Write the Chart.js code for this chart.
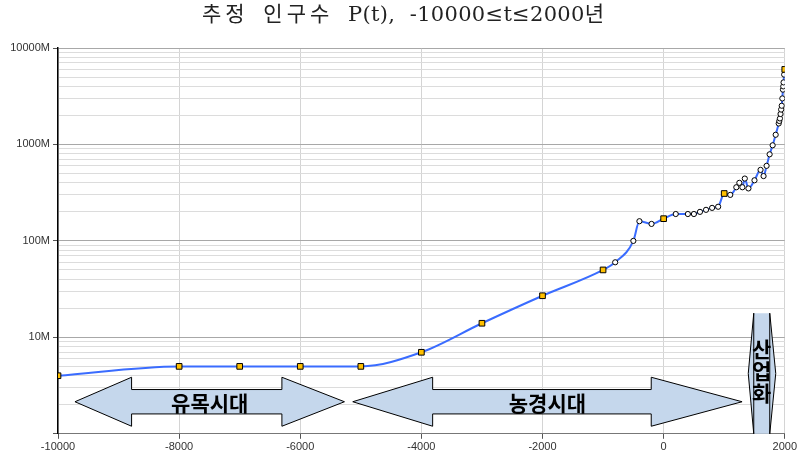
<!DOCTYPE html>
<html>
<head>
<meta charset="utf-8">
<script src="https://cdn.jsdelivr.net/npm/chart.js@4.4.1/dist/chart.umd.min.js"></script>
<style>
  html, body { margin: 0; padding: 0; background: #fff; }
  #wrap { width: 799px; height: 463px; }
</style>
</head>
<body>
<div id="wrap"><canvas id="popChart" width="799" height="463"></canvas></div>
<script>
// population in millions
const squareYears = [-10000, -8000, -7000, -6000, -5000, -4000, -3000, -2000, -1000, 0, 1000, 2000];
const squarePop = [4, 5, 5, 5, 5, 7, 14, 27, 50, 170, 310, 6000];

const circleYears = [-800, -500, -400, -200, 200, 400, 500, 600, 700, 800, 900, 1100, 1200, 1250, 1300, 1340, 1400,
    1500, 1600, 1650, 1700, 1750, 1800, 1850, 1900, 1910, 1920, 1930, 1940, 1950, 1960, 1970, 1975, 1980, 1990];
const circlePop = [60, 100, 160, 150, 190, 190, 190, 200, 210, 220, 226, 300, 360, 400, 360, 443, 350,
    425, 545, 470, 600, 790, 980, 1260, 1650, 1750, 1860, 2070, 2300, 2520, 3000, 3700, 4000, 4400, 5300];

const xTicks = [-10000, -8000, -6000, -4000, -2000, 0, 2000];
const yMajorTicks = [1, 10, 100, 1000, 10000];
const yTickLabels = ['', '10M', '100M', '1000M', '10000M'];

const titleText = '추정 인구수 P(t), -10000≤t≤2000년';

// era arrows (x in years)
const eras = [
    { label: '유목시대', from: -9720, headFrom: -8785, headTo: -6303, to: -5270 },
    { label: '농경시대', from: -5133, headFrom: -3814, headTo: -205, to: 1295 }
];
const industry = { label: '산업화', x: 1620, top: 17.8, bottom: 1 };

const linePoints = squareYears.map((x, i) => ({ x: x, y: squarePop[i] }))
    .concat(circleYears.map((x, i) => ({ x: x, y: circlePop[i] })))
    .sort((a, b) => a.x - b.x);

const yTicks = [];
yMajorTicks.forEach((m, i) => {
    if (i === yMajorTicks.length - 1) { yTicks.push({ value: m, major: true }); return; }
    for (let k = 1; k < 10; k++) yTicks.push({ value: m * k, major: k === 1 });
});

const isMajor = v => yMajorTicks.indexOf(v) >= 0;

// title drawn char by char: hangul in the original is set much wider than the latin part
const titlePlugin = {
    id: 'wideTitle',
    afterDraw(chart) {
        const { ctx } = chart;
        const gap = ch => /[\uac00-\ud7a3]/.test(ch) ? 4 : (ch === ' ' ? 8 : 0.3);
        ctx.save();
        ctx.font = '21px "DejaVu Serif", "Noto Sans CJK KR"';
        ctx.fillStyle = '#222';
        ctx.textAlign = 'left';
        ctx.textBaseline = 'middle';
        const chars = Array.from(titleText);
        const widths = chars.map(ch => ctx.measureText(ch).width + gap(ch));
        let x = 405 - widths.reduce((a, b) => a + b, 0) / 2;
        chars.forEach((ch, i) => {
            ctx.fillText(ch, x, 16);
            x += widths[i];
        });
        ctx.restore();
    }
};

const eraPlugin = {
    id: 'eras',
    afterDraw(chart) {
        const { ctx, scales: { x, y } } = chart;
        const cy = y.getPixelForValue(2.15);
        ctx.save();
        ctx.fillStyle = '#c5d7ec';
        ctx.strokeStyle = '#000';
        ctx.lineWidth = 1;
        eras.forEach(e => {
            const x0 = x.getPixelForValue(e.from), x1 = x.getPixelForValue(e.headFrom);
            const x2 = x.getPixelForValue(e.headTo), x3 = x.getPixelForValue(e.to);
            ctx.beginPath();
            ctx.moveTo(x0, cy);
            ctx.lineTo(x1, cy - 24.5);
            ctx.lineTo(x1, cy - 12.2);
            ctx.lineTo(x2, cy - 12.2);
            ctx.lineTo(x2, cy - 24.5);
            ctx.lineTo(x3, cy);
            ctx.lineTo(x2, cy + 24.5);
            ctx.lineTo(x2, cy + 12.2);
            ctx.lineTo(x1, cy + 12.2);
            ctx.lineTo(x1, cy + 24.5);
            ctx.closePath();
            ctx.fill();
            ctx.stroke();
            ctx.fillStyle = '#000';
            ctx.font = 'bold 21px "Noto Sans CJK KR"';
            ctx.textAlign = 'center';
            ctx.textBaseline = 'middle';
            ctx.fillText(e.label, (x0 + x3) / 2, cy + 1);
            ctx.fillStyle = '#c5d7ec';
        });

        // narrow vertical arrow for industrialisation
        const ix = x.getPixelForValue(industry.x);
        const it = y.getPixelForValue(industry.top), ib = y.getPixelForValue(industry.bottom);
        const im = (it + ib) / 2;
        ctx.beginPath();
        ctx.moveTo(ix - 8, it);
        ctx.lineTo(ix + 8, it);
        ctx.lineTo(ix + 14, im);
        ctx.lineTo(ix + 8, ib);
        ctx.lineTo(ix - 8, ib);
        ctx.lineTo(ix - 13.5, im);
        ctx.closePath();
        ctx.fill();
        ctx.beginPath();
        ctx.moveTo(ix - 8, it); ctx.lineTo(ix - 13.5, im); ctx.lineTo(ix - 8, ib);
        ctx.moveTo(ix + 8, it); ctx.lineTo(ix + 14, im); ctx.lineTo(ix + 8, ib);
        ctx.moveTo(ix - 8, it); ctx.lineTo(ix - 8, ib);
        ctx.moveTo(ix + 8, it); ctx.lineTo(ix + 8, ib);
        ctx.stroke();
        ctx.fillStyle = '#000';
        ctx.font = 'bold 21px "Noto Sans CJK KR"';
        ctx.textAlign = 'center';
        ctx.textBaseline = 'middle';
        Array.from(industry.label).forEach((ch, i) => {
            ctx.fillText(ch, ix, it + 36 + i * 22);
        });
        ctx.restore();
    }
};

new Chart(document.getElementById('popChart').getContext('2d'), {
    type: 'scatter',
    data: {
        datasets: [{
            label: 'squares',
            data: squareYears.map((x, i) => ({ x: x, y: squarePop[i] })),
            pointStyle: 'rect',
            pointRadius: 4,
            pointBackgroundColor: '#ffc000',
            pointBorderColor: '#000',
            pointBorderWidth: 1,
            showLine: false,
            order: 0
        }, {
            label: 'circles',
            data: circleYears.map((x, i) => ({ x: x, y: circlePop[i] })),
            pointStyle: 'circle',
            pointRadius: 2.6,
            pointBackgroundColor: '#fff',
            pointBorderColor: '#000',
            pointBorderWidth: 1,
            showLine: false,
            order: 1
        }, {
            label: 'line',
            data: linePoints,
            showLine: true,
            pointRadius: 0,
            borderColor: '#3a6cff',
            borderWidth: 2,
            cubicInterpolationMode: 'monotone',
            order: 2
        }]
    },
    options: {
        responsive: false,
        animation: false,
        devicePixelRatio: 1,
        layout: { padding: { top: 48, right: 0, left: 4, bottom: 7 } },
        plugins: {
            legend: { display: false },
            tooltip: { enabled: false },
            title: { display: false }
        },
        scales: {
            x: {
                type: 'linear',
                min: -10000,
                max: 2000,
                afterBuildTicks: s => { s.ticks = xTicks.map(v => ({ value: v })); },
                ticks: {
                    color: '#333',
                    font: { family: 'Liberation Sans', size: 11 },
                    padding: 2,
                    maxRotation: 0,
                    callback: v => String(v)
                },
                grid: { color: '#d4d4d4', lineWidth: 1, tickLength: 5, tickColor: '#555' },
                border: { color: '#777', width: 1 }
            },
            y: {
                type: 'logarithmic',
                min: 1,
                max: 10000,
                afterBuildTicks: s => { s.ticks = yTicks.map(t => ({ value: t.value, major: t.major })); },
                afterFit: s => { s.width = 54; },
                ticks: {
                    autoSkip: false,
                    color: '#333',
                    font: { family: 'Liberation Sans', size: 11 },
                    padding: 3,
                    callback: v => { const i = yMajorTicks.indexOf(v); return i >= 0 ? yTickLabels[i] : ''; }
                },
                grid: {
                    color: c => isMajor(c.tick.value) ? '#a8a8a8' : '#dcdcdc',
                    tickColor: c => isMajor(c.tick.value) ? '#555' : 'rgba(0,0,0,0)',
                    lineWidth: 1,
                    tickLength: 5
                },
                border: { color: '#000', width: 1.5 }
            }
        }
    },
    plugins: [eraPlugin, titlePlugin]
});
</script>
</body>
</html>
